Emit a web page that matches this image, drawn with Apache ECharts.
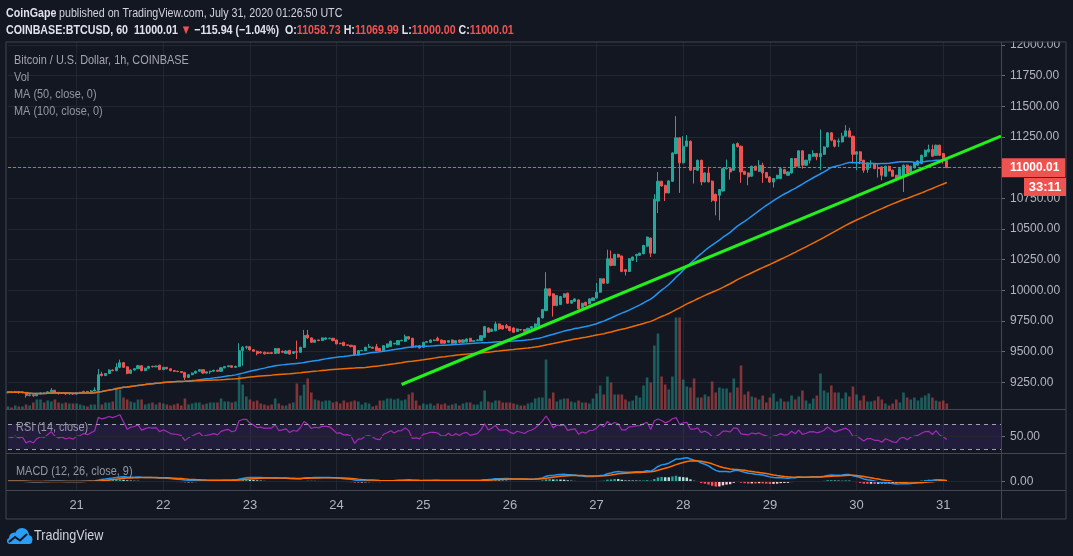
<!DOCTYPE html>
<html><head><meta charset="utf-8">
<script src="https://cdn.jsdelivr.net/npm/echarts@6/dist/echarts.min.js"></script>
<style>html,body{margin:0;padding:0;background:#131722;}#c{width:1073px;height:556px;}</style>
</head><body><div id="c"></div>
<script>
// ---------- DATA ----------
const firstCandleUTC = Date.UTC(2020, 6, 20, 5);   // 2020-07-20 05:00 UTC, 1h bars
const slotCount = 276;                             // hourly slots incl. empty right margin
// [open, close, low, high]
const candles = [
[9165,9170,9160,9178],[9170,9166,9162,9175],[9166,9172,9164,9180],[9172,9165,9158,9176],[9165,9168,9160,9172],
[9168,9142,9125,9170],[9142,9148,9135,9152],[9148,9140,9132,9150],[9140,9155,9138,9160],[9155,9163,9150,9168],
[9163,9160,9155,9166],[9160,9172,9158,9178],[9172,9185,9170,9203],[9185,9168,9165,9188],[9168,9160,9150,9170],
[9160,9163,9155,9168],[9163,9155,9148,9166],[9155,9160,9150,9165],[9160,9154,9148,9162],[9154,9165,9150,9168],
[9165,9168,9162,9172],[9168,9176,9165,9180],[9176,9172,9168,9178],[9172,9180,9170,9188],[9180,9187,9176,9209],
[9187,9312,9180,9358],[9318,9305,9298,9336],[9305,9322,9300,9326],[9322,9350,9318,9355],[9350,9345,9340,9356],
[9345,9372,9340,9405],[9372,9410,9365,9435],[9410,9372,9368,9415],[9376,9323,9315,9378],[9323,9350,9318,9356],
[9350,9361,9345,9365],[9361,9385,9358,9392],[9385,9345,9340,9390],[9345,9365,9342,9368],[9365,9380,9360,9383],
[9380,9376,9372,9385],[9376,9382,9374,9386],[9390,9353,9350,9392],[9353,9372,9350,9376],[9372,9360,9356,9375],
[9360,9345,9340,9363],[9345,9340,9335,9350],[9340,9338,9332,9345],[9338,9330,9325,9342],[9330,9290,9269,9335],
[9290,9312,9286,9316],[9312,9325,9308,9330],[9325,9340,9318,9345],[9340,9353,9336,9358],[9353,9325,9320,9356],
[9325,9335,9320,9338],[9335,9340,9320,9345],[9340,9348,9336,9352],[9348,9340,9335,9352],[9340,9368,9336,9372],
[9368,9378,9364,9382],[9378,9385,9372,9388],[9385,9372,9368,9388],[9372,9380,9368,9385],[9380,9508,9375,9568],
[9508,9535,9385,9545],[9535,9540,9520,9548],[9540,9515,9510,9545],[9515,9503,9498,9520],[9503,9485,9470,9508],
[9498,9490,9484,9505],[9495,9482,9476,9500],[9490,9486,9480,9495],[9492,9485,9480,9498],[9485,9525,9480,9530],
[9525,9487,9483,9530],[9503,9495,9490,9508],[9486,9505,9482,9510],[9510,9480,9475,9515],[9486,9500,9482,9503],
[9500,9495,9440,9590],[9495,9535,9490,9540],[9535,9631,9530,9677],[9636,9612,9605,9677],[9612,9576,9570,9615],
[9576,9595,9572,9598],[9595,9590,9585,9598],[9590,9612,9588,9615],[9600,9612,9596,9616],[9607,9609,9600,9614],
[9609,9590,9585,9612],[9595,9563,9560,9598],[9568,9565,9560,9572],[9576,9549,9545,9580],[9555,9552,9548,9558],
[9552,9541,9536,9555],[9548,9473,9465,9552],[9473,9508,9468,9512],[9508,9510,9504,9514],[9508,9535,9505,9540],
[9535,9540,9532,9563],[9535,9527,9524,9540],[9540,9508,9503,9563],[9527,9503,9500,9530],[9508,9549,9505,9552],
[9535,9563,9532,9566],[9541,9585,9538,9590],[9563,9568,9560,9572],[9557,9590,9554,9594],[9588,9592,9585,9597],
[9585,9622,9580,9639],[9622,9603,9598,9625],[9609,9535,9530,9612],[9545,9540,9535,9548],[9549,9530,9525,9552],
[9535,9576,9530,9580],[9576,9582,9572,9586],[9576,9595,9572,9598],[9590,9595,9586,9599],[9609,9590,9585,9622],
[9595,9568,9565,9600],[9590,9568,9565,9593],[9576,9590,9572,9593],[9595,9568,9565,9598],[9568,9590,9565,9593],
[9595,9576,9572,9598],[9576,9595,9572,9600],[9580,9603,9575,9607],[9609,9582,9578,9612],[9582,9590,9578,9594],
[9590,9596,9586,9600],[9590,9630,9586,9635],[9617,9704,9612,9710],[9693,9658,9655,9698],[9665,9683,9660,9688],
[9671,9726,9665,9745],[9726,9685,9680,9730],[9712,9685,9680,9716],[9712,9693,9688,9726],[9704,9671,9666,9708],
[9693,9658,9652,9698],[9665,9685,9660,9688],[9680,9677,9672,9684],[9680,9666,9662,9684],[9666,9690,9662,9694],
[9690,9704,9686,9708],[9694,9726,9690,9730],[9712,9775,9708,9780],[9775,9843,9770,9848],[9835,10012,9830,10148],
[10012,9957,9950,10015],[9971,9876,9786,9975],[9876,9957,9870,9962],[9884,9949,9880,9954],[9944,9971,9940,9975],
[9977,9895,9890,9980],[9895,9917,9892,9920],[9910,9930,9905,9934],[9922,9849,9845,9926],[9862,9895,9858,9898],
[9903,9876,9872,9906],[9890,9930,9886,9934],[9917,9938,9914,9942],[9938,9985,9934,10060],[9985,10094,9980,10098],
[10094,10058,10052,10098],[10058,10257,10052,10331],[10257,10203,10196,10325],[10203,10293,10198,10298],[10293,10271,10266,10298],
[10280,10154,10148,10284],[10168,10154,10121,10172],[10154,10257,10150,10262],[10245,10271,10240,10275],[10282,10292,10230,10298],
[10285,10303,10280,10307],[10298,10366,10294,10370],[10360,10434,10356,10438],[10426,10303,10271,10430],[10303,10742,10298,10783],
[10728,10889,10630,10965],[10889,10851,10845,10893],[10856,10794,10728,10860],[10794,10892,10790,10897],[10889,11120,10884,11125],
[11115,11243,11110,11420],[11243,11039,10794,11248],[11039,11175,11035,11257],[11175,11218,11170,11265],[11215,10979,10974,11222],
[10992,10985,10870,10996],[10979,11060,10975,11065],[11060,10884,10856,11065],[10884,10957,10880,10962],[10957,10884,10880,11006],
[10890,10734,10720,10895],[10783,10728,10611,10788],[10775,10821,10570,10826],[10810,10992,10805,10998],[10992,10995,10985,11066],
[10992,10965,10902,10996],[10979,11191,10975,11197],[11197,11170,11165,11205],[11175,10965,10876,11180],[10970,10946,10940,10975],
[10957,10925,10856,10960],[10930,11011,10925,11016],[11011,10979,10974,11016],[10970,11020,10965,11061],[11020,10957,10876,11040],
[10960,10920,10912,10965],[10924,10883,10876,10930],[10883,10911,10838,10915],[10911,10938,10906,10942],[10911,10992,10906,10996],
[10984,10952,10946,10990],[10938,10965,10934,10970],[10957,11074,10952,11078],[11074,11011,11006,11079],[11011,11137,11006,11142],
[11137,11020,10992,11142],[11020,11060,11016,11064],[11060,11107,11033,11112],[11093,11115,11088,11142],[11115,11088,11060,11120],
[11088,11115,10979,11311],[11109,11169,11104,11174],[11169,11284,11164,11290],[11284,11224,11215,11290],[11224,11175,11165,11230],
[11210,11218,11169,11238],[11210,11257,11205,11284],[11257,11300,11252,11346],[11300,11251,11246,11325],[11256,11109,11033,11260],
[11109,11129,10979,11134],[11129,11055,11028,11134],[11060,10979,10958,11064],[10984,11039,10958,11044],[11033,11036,11006,11060],
[11033,10992,10988,11038],[10995,10992,10919,11033],[11006,10938,10897,11010],[10930,11011,10925,11016],[11011,10973,10968,11016],
[10979,10930,10925,10984],[10938,10911,10892,10942],[10919,10992,10914,10996],[10930,11020,10802,11025],[11020,10957,10952,11025],
[10965,11011,10960,11016],[10998,11039,10994,11044],[11020,11055,11016,11060],[11033,11101,11028,11106],[11093,11142,11088,11147],
[11129,11148,11124,11188],[11148,11093,11088,11188],[11101,11183,11096,11188],[11183,11101,11096,11188],[11115,11060,11033,11120],
[11058.73,11000.01,11000.00,11069.99]
];
// hourly volume (relative units)
const volumes = [
3,2,4,3,3,5,4,7,10,10, 7,9,8,10,7,6,7,6,6,6, 5,4,3,5,5,20,5,7,7,8, 22,20,12,10,8,7,10,10,5,6,
7,5,7,6,5,4,5,6,4,11, 5,6,7,7,5,6,7,7,7,11, 8,8,7,8,34,25,13,10,8,9, 6,5,4,5,11,6,4,4,6,7,
26,14,25,31,17,10,9,8,9,9, 7,8,6,9,7,8,9,8,5,7, 6,3,4,9,9,11,11,10,11,9, 10,15,17,9,4,6,5,6,4,6,
5,6,4,5,6,4,6,7,7,5, 5,8,19,8,7,9,9,7,7,7, 6,5,4,4,6,7,11,12,12,50, 11,17,8,10,11,11,8,7,9,7,
7,6,11,16,24,15,33,27,15,15, 15,10,8,9,14,12,24,32,27,64, 76,33,25,20,33,92,92,30,23,22,
31,12,12,15,13,28,17,22,21,21, 17,31,22,44,15,18,13,12,10,14, 7,12,16,8,11,8,8,14,10,13,
19,9,6,11,14,36,19,17,24,17, 17,11,17,13,23,15,9,14,8,8, 9,13,10,6,4,6,10,7,17,12, 10,12,9,12,14,16,12,9,8,9,6
];
const trendLine = [[109, 9232], [275, 11257]];   // [slot index, price]
const priceMin = 9250, priceMax = 12000, priceStep = 250;
const lastPrice = 11000.01;
const rsiLevels = [30, 50, 70];

// ---------- derived indicator series (from closes, as in the legend) ----------
const closes = candles.map(c => c[1]);
function sma(n) {
  return closes.map((_, i) => { const s = Math.max(0, i - n + 1); let t = 0;
    for (let k = s; k <= i; k++) t += closes[k]; return +(t / (i - s + 1)).toFixed(2); });
}
function rsi(n) {
  let seed = 0; for (let i = 1; i <= n; i++) seed += Math.abs(closes[i] - closes[i - 1]); seed = seed / n / 2;
  let ag = seed, al = seed; const out = [50];
  for (let i = 1; i < closes.length; i++) { const d = closes[i] - closes[i - 1];
    ag = (ag * (n - 1) + Math.max(d, 0)) / n; al = (al * (n - 1) + Math.max(-d, 0)) / n;
    out.push(+(100 - 100 / (1 + ag / al)).toFixed(2)); }
  return out;
}
function ema(arr, n) { const k = 2 / (n + 1); let e = arr[0]; return arr.map((v, i) => (e = i ? v * k + e * (1 - k) : v)); }
const ma50 = sma(50), ma100 = sma(100), rsi14 = rsi(14);
const e12 = ema(closes, 12), e26 = ema(closes, 26);
const macd = closes.map((_, i) => e12[i] - e26[i]);
const signal = ema(macd, 9);
const hist = macd.map((v, i) => v - signal[i]);

// ---------- chart ----------
const F = "'Liberation Sans',Arial,sans-serif";
const BG = '#131722', GRID = '#222632', FRAME = '#434651', TXT = '#b2b5be';
const UP = '#26a69a', DOWN = '#ef5350';
const SX = 0.82; // narrow text look
const cats = [];
for (let i = 0; i < slotCount; i++) cats.push(new Date(firstCandleUTC + i * 3600000).toISOString().slice(0, 13) + ':00');
const isMidnight = idx => cats[idx] && cats[idx].slice(11, 13) === '00';

const volData = volumes.map((v, i) => ({ value: v, itemStyle: { color: candles[i][1] >= candles[i][0] ? 'rgba(38,166,154,0.5)' : 'rgba(239,83,80,0.5)' } }));
const histData = hist.map((v, i) => {
  const p = i ? hist[i - 1] : 0; let c;
  if (v >= 0) c = v > p ? '#26a69a' : '#b2dfdb'; else c = v < p ? '#ff5252' : '#ffcdd2';
  return { value: +v.toFixed(3), itemStyle: { color: c } };
});
const mPeak = Math.max(...macd.map(Math.abs), ...signal.map(Math.abs));
const macdMax = mPeak * 28.3 / 23.6, macdMin = -macdMax * 8.7 / 28.3;

const grids = [
  { left: 8, right: 72, top: 42, bottom: 146.5 },
  { left: 8, right: 72, top: 45, bottom: 173.7 },
  { left: 8, right: 72, top: 409.5, bottom: 103 },
  { left: 8, right: 72, top: 453, bottom: 66 }
];
const xAxes = grids.map((g, i) => ({
  type: 'category', gridIndex: i, data: cats, boundaryGap: false,
  axisLine: { show: false }, axisTick: { show: false },
  axisLabel: { show: i === 3, interval: (idx) => isMidnight(idx), formatter: v => String(+v.slice(8, 10)),
    color: TXT, fontSize: 13, fontFamily: F, margin: 9 },
  splitLine: { show: i !== 1, interval: (idx) => isMidnight(idx), lineStyle: { color: GRID, width: 1 } }
}));
const axisLab = { color: TXT, fontSize: 12, fontFamily: F, margin: 9 };
const yAxes = [
  { type: 'value', gridIndex: 0, min: 0, max: 367.5, show: false },
  { type: 'value', gridIndex: 1, position: 'right', min: priceMin, max: priceMax, interval: priceStep,
    axisLine: { show: false }, axisTick: { show: true, length: 4, lineStyle: { color: '#6a6d78' } },
    axisLabel: Object.assign({ formatter: v => v.toFixed(2) }, axisLab),
    splitLine: { show: true, lineStyle: { color: GRID } } },
  { type: 'value', gridIndex: 2, position: 'right', min: 23.5, max: 94,
    axisLine: { show: false }, axisTick: { show: true, length: 4, customValues: [50], lineStyle: { color: '#6a6d78' } },
    axisLabel: Object.assign({ customValues: [50], formatter: v => v.toFixed(2) }, axisLab), splitLine: { show: false } },
  { type: 'value', gridIndex: 3, position: 'right', min: macdMin, max: macdMax,
    axisLine: { show: false }, axisTick: { show: true, length: 4, customValues: [0], lineStyle: { color: '#6a6d78' } },
    axisLabel: Object.assign({ customValues: [0], formatter: v => v.toFixed(2) }, axisLab), splitLine: { show: false } }
];

const txt = (x, y, text, extra, sx) => ({ type: 'text', z: 100, silent: true, x, y, scaleX: sx || SX,
  style: Object.assign({ x: 0, y: 0, text, fill: '#9598a1', font: '13px ' + F, textVerticalAlign: 'middle' }, extra || {}) });
const hline = (y, x1, x2) => ({ type: 'line', z: 95, silent: true, shape: { x1, y1: y, x2, y2: y }, style: { stroke: FRAME, lineWidth: 1 } });
const vline = (x, y1, y2) => ({ type: 'line', z: 95, silent: true, shape: { x1: x, y1, x2: x, y2 }, style: { stroke: FRAME, lineWidth: 1 } });

const graphic = [
  { type: 'text', z: 100, silent: true, x: 6, y: 13, scaleX: SX, style: { x: 0, y: 0, textVerticalAlign: 'middle',
    text: '{b|CoinGape} {n|published on TradingView.com, July 31, 2020 01:26:50 UTC}',
    rich: { b: { fill: '#e0e3eb', font: 'bold 13px ' + F }, n: { fill: '#d1d4dc', font: '13px ' + F } } } },
  { type: 'text', z: 100, silent: true, x: 6, y: 30, scaleX: SX, style: { x: 0, y: 0, textVerticalAlign: 'middle',
    text: '{b|COINBASE:BTCUSD, 60  11000.01 }{r|▼}{b| −115.94 (−1.04%)  O:}{r|11058.73}{b| H:}{r|11069.99}{b| L:}{r|11000.00}{b| C:}{r|11000.01}',
    rich: { b: { fill: '#e0e3eb', font: 'bold 13px ' + F }, r: { fill: '#ef5350', font: 'bold 13px ' + F } } } },
  txt(14, 60, 'Bitcoin / U.S. Dollar, 1h, COINBASE', { fill: '#a3a6af' }, 0.84),
  txt(14, 77.5, 'Vol', null, 0.84),
  txt(14, 94, 'MA (50, close, 0)', null, 0.84),
  txt(14, 111, 'MA (100, close, 0)', null, 0.84),
  txt(16, 427, 'RSI (14, close)', null, 0.84),
  txt(16, 471, 'MACD (12, 26, close, 9)', null, 0.84),
  { type: 'rect', z: 94, silent: true, shape: { x: 1002, y: 34, width: 64, height: 7.5 }, style: { fill: BG } },
  { type: 'rect', z: 95, silent: true, shape: { x: 6, y: 42, width: 1060, height: 477 }, style: { fill: 'none', stroke: FRAME, lineWidth: 1 } },
  vline(1001.5, 42, 519),
  hline(409.5, 6, 1066), hline(453.5, 6, 1066), hline(490.5, 6, 1066),
  { type: 'rect', z: 110, silent: true, shape: { x: 1024, y: 178, width: 42, height: 18 }, style: { fill: '#ef5350' } },
  { type: 'text', z: 111, silent: true, style: { x: 1045, y: 187, text: '33:11', fill: '#ffffff', font: 'bold 13px ' + F, textAlign: 'center', textVerticalAlign: 'middle' } },
  { type: 'group', z: 100, silent: true, children: [
    { type: 'circle', shape: { cx: 14.5, cy: 538, r: 5.5 }, style: { fill: '#2a9df4' } },
    { type: 'circle', shape: { cx: 22, cy: 535, r: 7 }, style: { fill: '#2a9df4' } },
    { type: 'circle', shape: { cx: 28, cy: 539.5, r: 4.5 }, style: { fill: '#2a9df4' } },
    { type: 'rect', shape: { x: 7, y: 538, width: 25, height: 6, r: 3 }, style: { fill: '#2a9df4' } },
    { type: 'polyline', shape: { points: [[9, 542], [15, 537], [20, 540.5], [27, 534]] }, style: { stroke: BG, lineWidth: 2, fill: 'none' } }
  ] },
  txt(34, 536, 'TradingView', { fill: '#d1d4dc', font: '15px ' + F }, 0.84)
];

const option = {
  backgroundColor: BG, animation: false,
  grid: grids, xAxis: xAxes, yAxis: yAxes, graphic,
  series: [
    { type: 'bar', name: 'Vol', xAxisIndex: 0, yAxisIndex: 0, data: volData, barWidth: 2.6, silent: true },
    { type: 'candlestick', name: 'BTCUSD', xAxisIndex: 1, yAxisIndex: 1, data: candles, barWidth: 2.6, clip: false, silent: true,
      itemStyle: { color: UP, color0: DOWN, borderColor: UP, borderColor0: DOWN, borderWidth: 1 },
      markLine: { silent: true, symbol: ['none', 'none'], animation: false,
        lineStyle: { color: '#ef5350', type: [3, 2], width: 1 },
        label: { show: true, position: 'end', distance: 0, formatter: lastPrice.toFixed(2), color: '#ffffff',
          fontWeight: 'bold', fontSize: 12, fontFamily: F, backgroundColor: '#ef5350', padding: [4, 6, 3, 9] },
        data: [{ yAxis: lastPrice }] } },
    { type: 'line', name: 'MA50', xAxisIndex: 1, yAxisIndex: 1, data: ma50, showSymbol: false, clip: false, silent: true,
      lineStyle: { color: '#2196f3', width: 1.5 } },
    { type: 'line', name: 'MA100', xAxisIndex: 1, yAxisIndex: 1, data: ma100, showSymbol: false, clip: false, silent: true,
      lineStyle: { color: '#ef6c00', width: 1.5 } },
    { type: 'line', name: 'Trend', xAxisIndex: 1, yAxisIndex: 1, data: trendLine, showSymbol: false, clip: false, silent: true,
      lineStyle: { color: '#22f01a', width: 3 } },
    { type: 'line', name: 'RSI', xAxisIndex: 2, yAxisIndex: 2, data: rsi14, showSymbol: false, silent: true,
      lineStyle: { color: '#a52ab8', width: 1.2 },
      markArea: { silent: true, itemStyle: { color: 'rgba(110,60,190,0.18)' }, data: [[{ yAxis: rsiLevels[0] }, { yAxis: rsiLevels[2] }]] },
      markLine: { silent: true, symbol: ['none', 'none'], label: { show: false }, animation: false,
        data: [
          { yAxis: rsiLevels[2], lineStyle: { color: '#9fa2ab', type: [4, 4], width: 1 } },
          { yAxis: rsiLevels[1], lineStyle: { color: GRID, type: 'solid', width: 1 } },
          { yAxis: rsiLevels[0], lineStyle: { color: '#9fa2ab', type: [4, 4], width: 1 } }
        ] } },
    { type: 'bar', name: 'Histogram', xAxisIndex: 3, yAxisIndex: 3, data: histData, barWidth: 2.4, silent: true,
      markLine: { silent: true, symbol: ['none', 'none'], label: { show: false }, animation: false,
        lineStyle: { color: GRID, type: 'solid', width: 1 }, data: [{ yAxis: 0 }] } },
    { type: 'line', name: 'MACD', xAxisIndex: 3, yAxisIndex: 3, data: macd.map(v => +v.toFixed(3)), showSymbol: false, silent: true,
      lineStyle: { color: '#2196f3', width: 1.5 } },
    { type: 'line', name: 'Signal', xAxisIndex: 3, yAxisIndex: 3, data: signal.map(v => +v.toFixed(3)), showSymbol: false, silent: true,
      lineStyle: { color: '#ff6d00', width: 1.5 } }
  ]
};
const chart = echarts.init(document.getElementById('c'));
chart.setOption(option);
</script></body></html>
